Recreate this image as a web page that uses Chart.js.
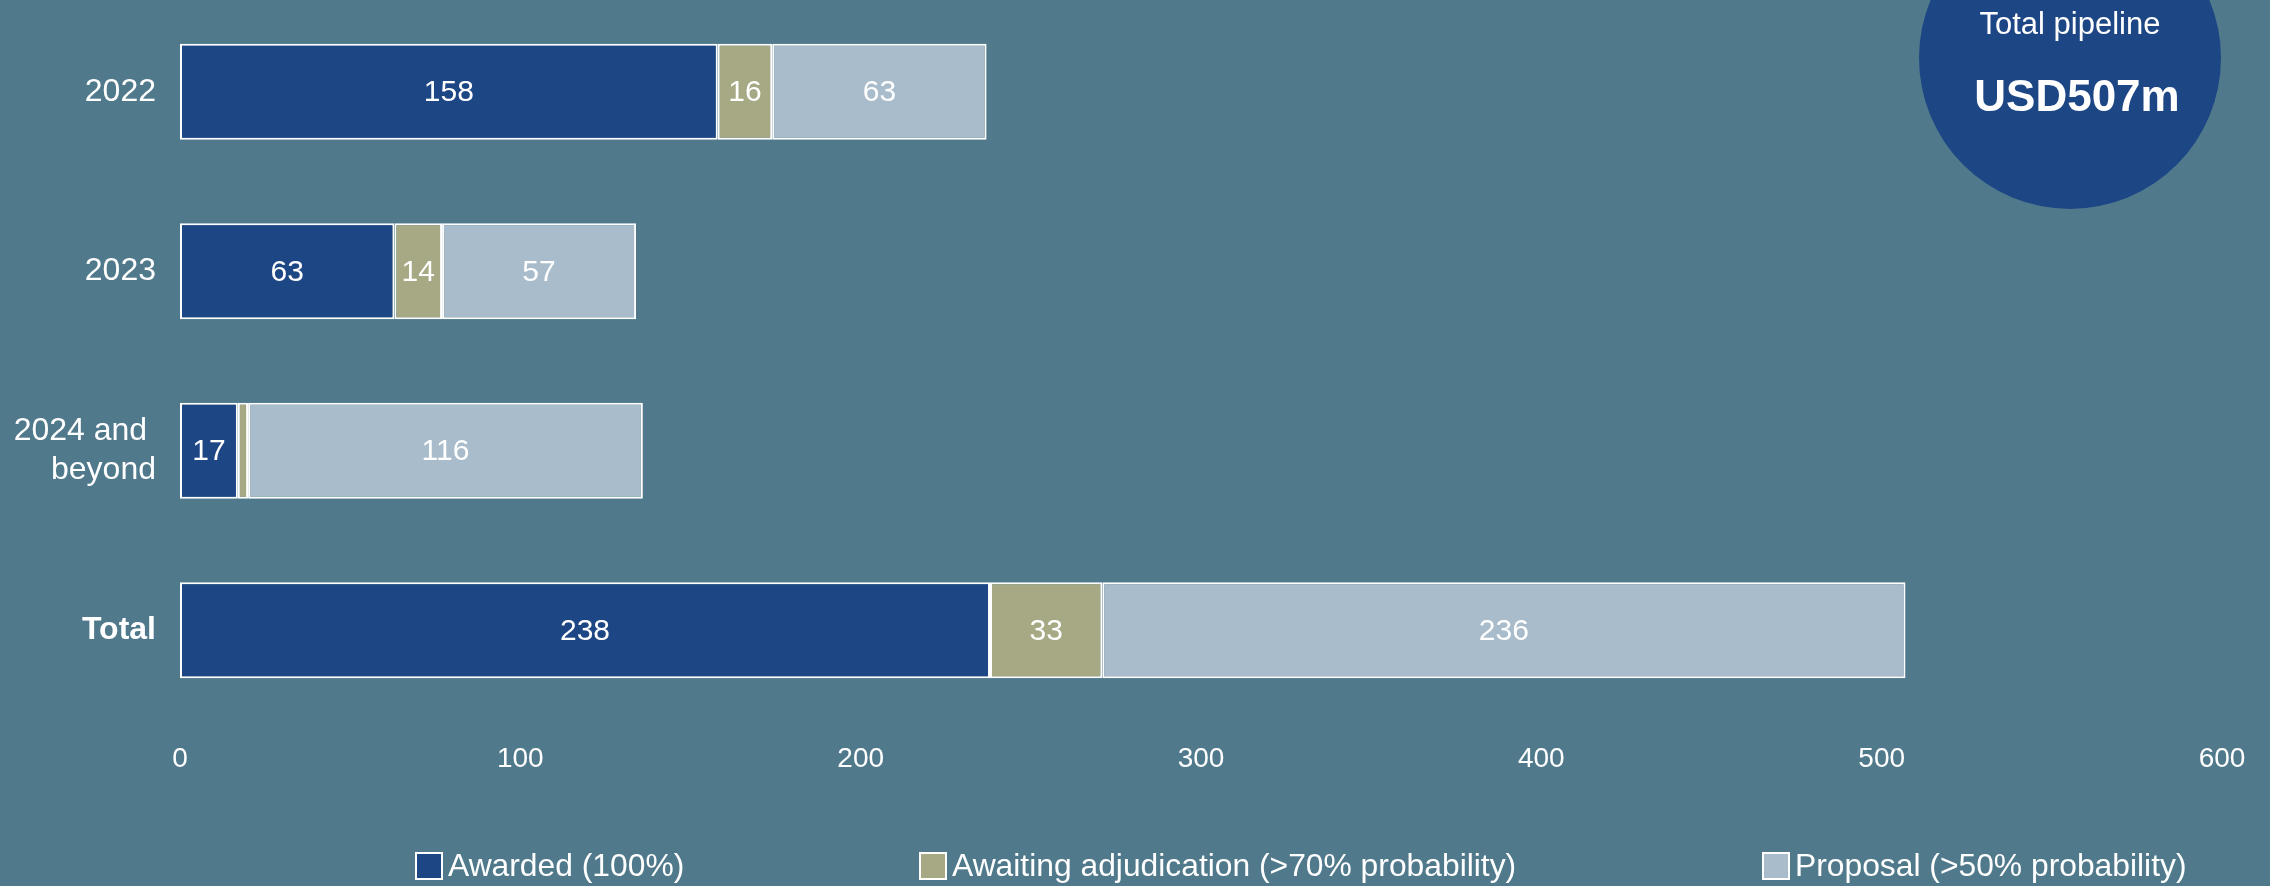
<!DOCTYPE html>
<html>
<head>
<meta charset="utf-8">
<script src="https://cdn.jsdelivr.net/npm/chart.js@4"></script>
<style>
  html, body { margin: 0; padding: 0; background: #507a8c; }
  #wrap { position: relative; width: 2270px; height: 886px; overflow: hidden; font-family: "Liberation Sans", Arial, sans-serif; }
  #badge { position: absolute; left: 1919px; top: -93px; width: 302px; height: 302px; border-radius: 50%; background: #1d4685; color: #fff; text-align: center; }
  #badge .t1 { position: absolute; top: 99px; width: 100%; font-size: 31px; }
  #badge .t2 { position: absolute; top: 164px; left: 7px; width: 100%; font-size: 44px; font-weight: bold; }
  #legend { position: absolute; top: 847px; left: 0; width: 2270px; height: 36px; color: #fff; font-size: 31.8px; }
  #legend span.item { position: absolute; display: flex; align-items: center; white-space: nowrap; }
  #legend i { display: inline-block; width: 24px; height: 24px; border: 2px solid #fff; margin-right: 5px; }
</style>
</head>
<body>
<div id="wrap">
  <canvas id="chart" width="2270" height="886"></canvas>
  <div id="badge"><div class="t1">Total pipeline</div><div class="t2">USD507m</div></div>
  <div id="legend"></div>
</div>
<script>
// data (USD m)
var categories = [2022, 2023, ['2024 and ', 'beyond'], 'Total'];
var awarded = [158, 63, 17, 238];
var awaiting = [16, 14, 3, 33];
var proposal = [63, 57, 116, 236];
var seriesNames = ['Awarded (100%)', 'Awaiting adjudication (>70% probability)', 'Proposal (>50% probability)'];
var xTicks = [0, 100, 200, 300, 400, 500, 600];

var colours = ['#1d4685', '#a6a984', '#a9bccb'];
var legendLeft = [415, 919, 1762];

// values written in the middle of each segment
var barLabels = {
  id: 'barLabels',
  afterDatasetsDraw: function(chart) {
    var ctx = chart.ctx;
    ctx.save();
    ctx.fillStyle = '#fff';
    ctx.font = '30px "Liberation Sans", Arial, sans-serif';
    ctx.textAlign = 'center';
    ctx.textBaseline = 'middle';
    chart.data.datasets.forEach(function(ds, i) {
      chart.getDatasetMeta(i).data.forEach(function(bar, j) {
        if (ds.data[j] < 5) return;
        var p = bar.getProps(['x', 'base', 'y'], true);
        ctx.fillText(ds.data[j], (p.x + p.base) / 2, p.y + 1);
      });
    });
    ctx.restore();
  }
};

var ctx = document.getElementById('chart').getContext('2d');
var chart = new Chart(ctx, {
  type: 'bar',
  data: {
    labels: categories,
    datasets: [
      { label: seriesNames[0], data: awarded, backgroundColor: colours[0] },
      { label: seriesNames[1], data: awaiting, backgroundColor: colours[1] },
      { label: seriesNames[2], data: proposal, backgroundColor: colours[2] }
    ].map(function(d) {
      d.borderColor = '#fff';
      d.borderWidth = 2;
      d.borderSkipped = false;
      d.categoryPercentage = 1;
      d.barPercentage = 0.536;
      return d;
    })
  },
  options: {
    indexAxis: 'y',
    responsive: false,
    animation: false,
    layout: { padding: { top: 2, right: 48, bottom: 0, left: 0 } },
    scales: {
      x: {
        stacked: true,
        min: 0,
        max: 600,
        afterBuildTicks: function(scale) {
          scale.ticks = xTicks.map(function(v) { return { value: v }; });
        },
        afterFit: function(scale) { scale.height = 166; },
        grid: { display: false },
        border: { display: false },
        ticks: {
          color: '#fff',
          padding: 14,
          maxRotation: 0,
          font: { family: '"Liberation Sans", Arial, sans-serif', size: 28 }
        }
      },
      y: {
        stacked: true,
        afterFit: function(scale) {
          scale.width = 180;
          scale.paddingTop = 0;
          scale.paddingBottom = 0;
        },
        grid: { display: false },
        border: { display: false },
        ticks: {
          color: '#fff',
          padding: 16,
          font: function(c) {
            return { family: '"Liberation Sans", Arial, sans-serif', size: 32, weight: c.index === 3 ? 'bold' : 'normal' };
          }
        }
      }
    },
    plugins: {
      legend: { display: false },
      tooltip: { enabled: false }
    }
  },
  plugins: [barLabels]
});

// legend
var legend = document.getElementById('legend');
seriesNames.forEach(function(name, i) {
  var item = document.createElement('span');
  item.className = 'item';
  item.style.left = legendLeft[i] + 'px';
  item.innerHTML = '<i style="background:' + colours[i] + '"></i>' + name.replace('>', '&gt;');
  legend.appendChild(item);
});
</script>
</body>
</html>
